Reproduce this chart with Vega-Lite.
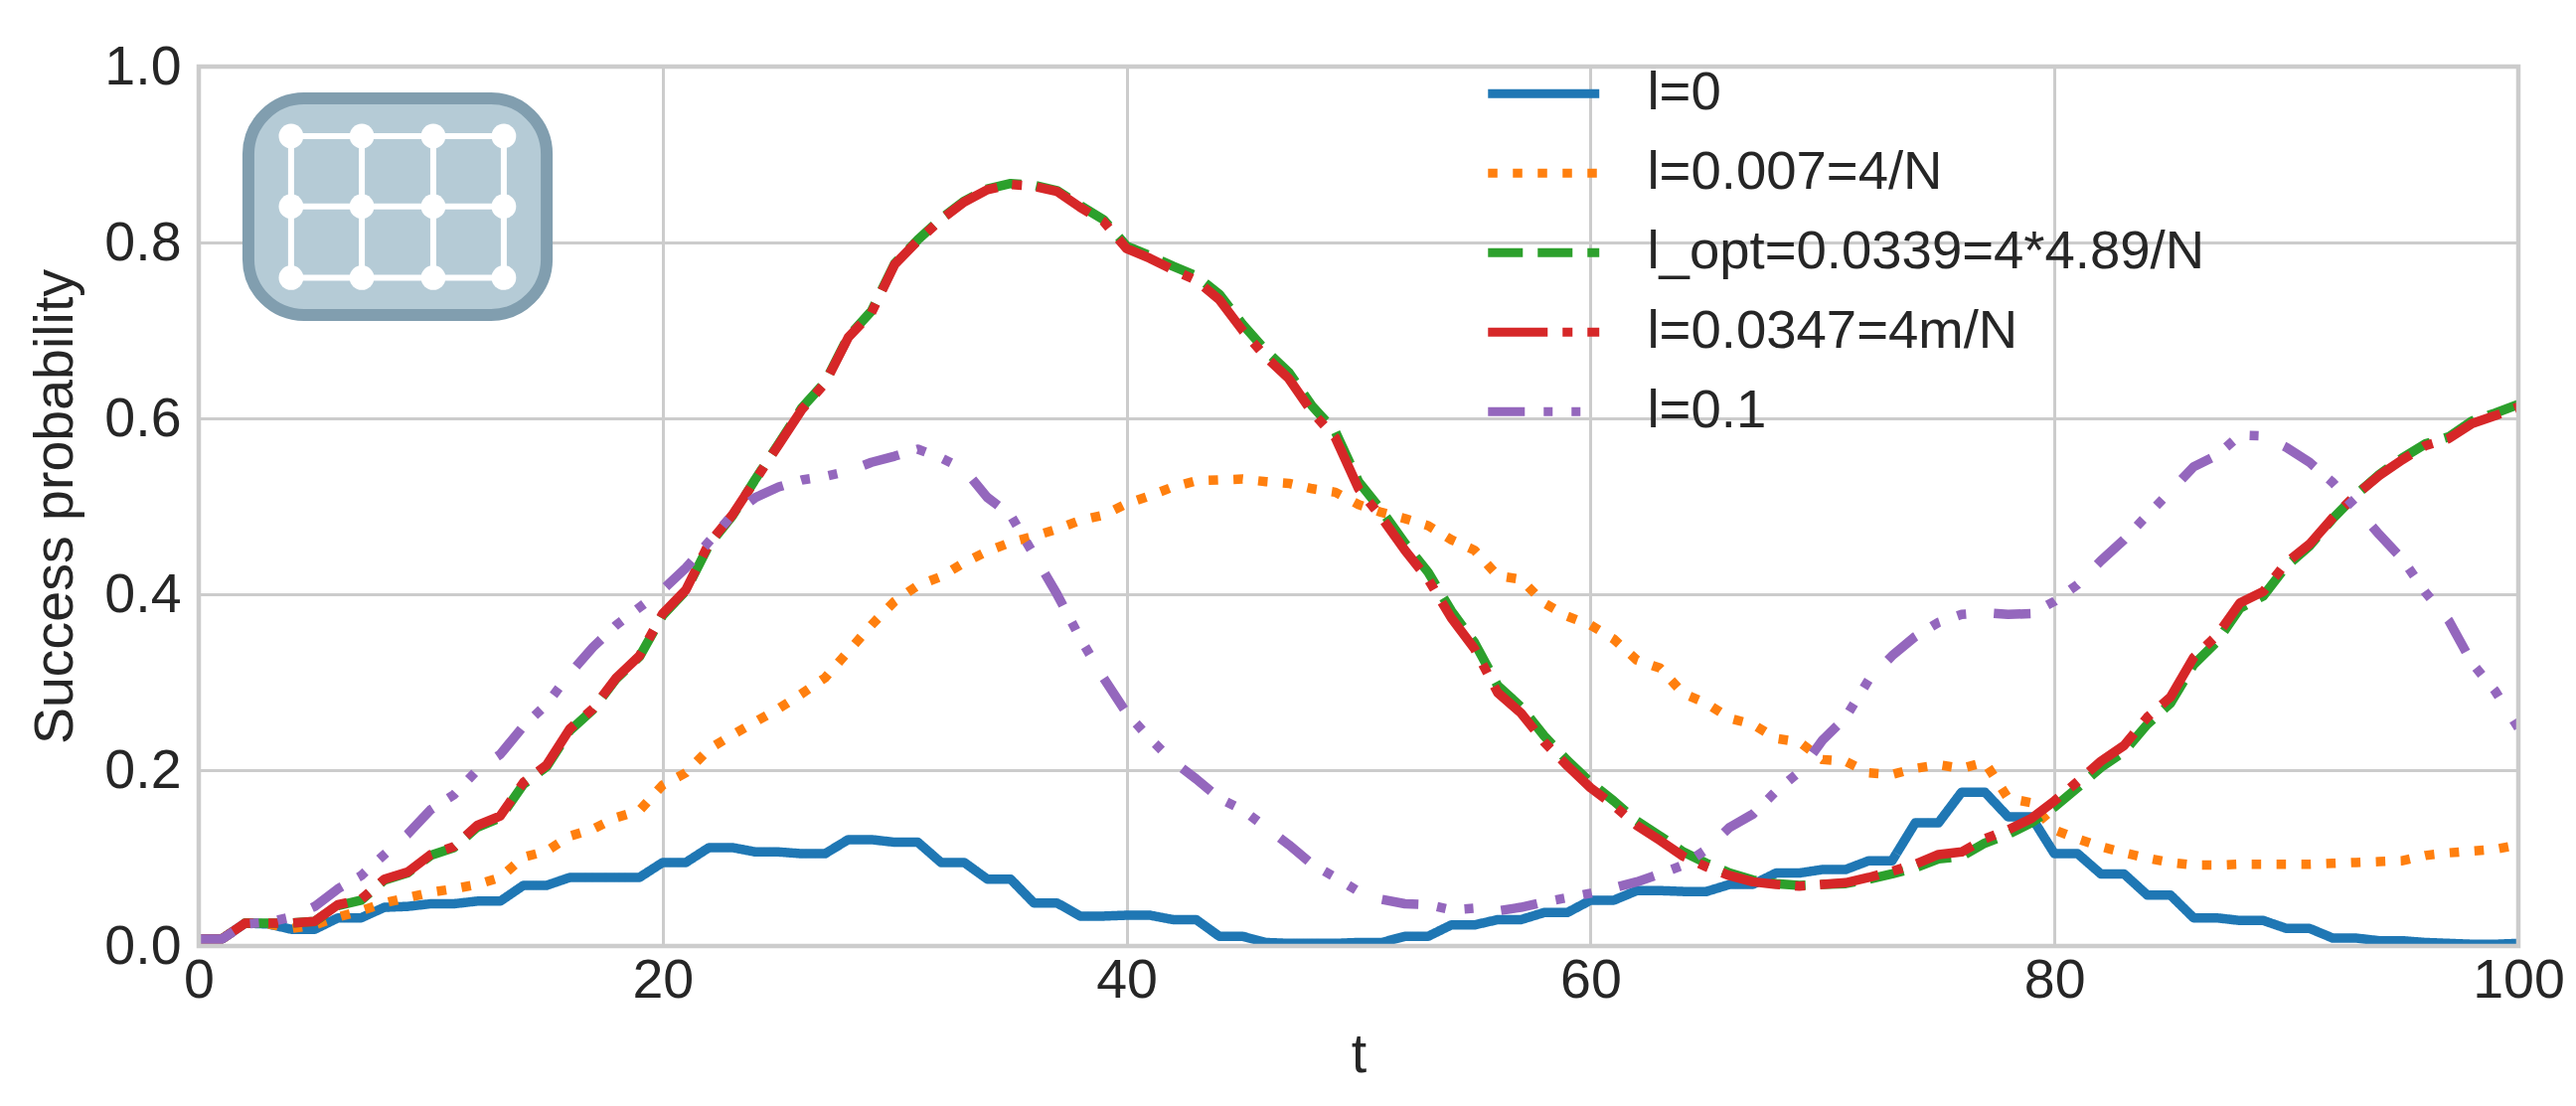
{
"$schema":"https://vega.github.io/schema/vega-lite/v6.json",
"width":2334,"height":885,
"autosize":"none",
"padding":{"left":200,"top":67,"right":58,"bottom":161},
"background":"white",
"config":{"view":{"stroke":null},"font":"Liberation Sans"},
"datasets":{
"box":[{"x":2.14,"x2":15.0,"y":0.7175,"y2":0.9638}],
"frame":[{"x":0,"x2":100,"y":0,"y2":1}],
"links":[
{"x":3.98,"x2":13.15,"y":0.921,"y2":0.921},{"x":3.98,"x2":13.15,"y":0.841,"y2":0.841},{"x":3.98,"x2":13.15,"y":0.76,"y2":0.76},
{"x":3.98,"x2":3.98,"y":0.76,"y2":0.921},{"x":7.03,"x2":7.03,"y":0.76,"y2":0.921},{"x":10.11,"x2":10.11,"y":0.76,"y2":0.921},{"x":13.15,"x2":13.15,"y":0.76,"y2":0.921}],
"nodes":[
{"x":3.98,"y":0.921},{"x":7.03,"y":0.921},{"x":10.11,"y":0.921},{"x":13.15,"y":0.921},
{"x":3.98,"y":0.841},{"x":7.03,"y":0.841},{"x":10.11,"y":0.841},{"x":13.15,"y":0.841},
{"x":3.98,"y":0.76},{"x":7.03,"y":0.76},{"x":10.11,"y":0.76},{"x":13.15,"y":0.76}],
"curves":[
{"t":0,"l":"l=0","p":0.008},{"t":1,"l":"l=0","p":0.008},{"t":2,"l":"l=0","p":0.026},{"t":3,"l":"l=0","p":0.025},{"t":4,"l":"l=0","p":0.019},{"t":5,"l":"l=0","p":0.019},{"t":6,"l":"l=0","p":0.032},{"t":7,"l":"l=0","p":0.032},{"t":8,"l":"l=0","p":0.044},{"t":9,"l":"l=0","p":0.045},{"t":10,"l":"l=0","p":0.048},{"t":11,"l":"l=0","p":0.048},{"t":12,"l":"l=0","p":0.051},{"t":13,"l":"l=0","p":0.051},{"t":14,"l":"l=0","p":0.069},{"t":15,"l":"l=0","p":0.069},{"t":16,"l":"l=0","p":0.078},{"t":17,"l":"l=0","p":0.078},{"t":18,"l":"l=0","p":0.078},{"t":19,"l":"l=0","p":0.078},{"t":20,"l":"l=0","p":0.095},{"t":21,"l":"l=0","p":0.095},{"t":22,"l":"l=0","p":0.112},{"t":23,"l":"l=0","p":0.112},{"t":24,"l":"l=0","p":0.107},{"t":25,"l":"l=0","p":0.107},{"t":26,"l":"l=0","p":0.105},{"t":27,"l":"l=0","p":0.105},{"t":28,"l":"l=0","p":0.121},{"t":29,"l":"l=0","p":0.121},{"t":30,"l":"l=0","p":0.118},{"t":31,"l":"l=0","p":0.118},{"t":32,"l":"l=0","p":0.095},{"t":33,"l":"l=0","p":0.095},{"t":34,"l":"l=0","p":0.076},{"t":35,"l":"l=0","p":0.076},{"t":36,"l":"l=0","p":0.049},{"t":37,"l":"l=0","p":0.049},{"t":38,"l":"l=0","p":0.034},{"t":39,"l":"l=0","p":0.034},{"t":40,"l":"l=0","p":0.035},{"t":41,"l":"l=0","p":0.035},{"t":42,"l":"l=0","p":0.03},{"t":43,"l":"l=0","p":0.03},{"t":44,"l":"l=0","p":0.011},{"t":45,"l":"l=0","p":0.011},{"t":46,"l":"l=0","p":0.004},{"t":47,"l":"l=0","p":0.003},{"t":48,"l":"l=0","p":0.003},{"t":49,"l":"l=0","p":0.003},{"t":50,"l":"l=0","p":0.004},{"t":51,"l":"l=0","p":0.004},{"t":52,"l":"l=0","p":0.011},{"t":53,"l":"l=0","p":0.011},{"t":54,"l":"l=0","p":0.024},{"t":55,"l":"l=0","p":0.024},{"t":56,"l":"l=0","p":0.03},{"t":57,"l":"l=0","p":0.03},{"t":58,"l":"l=0","p":0.038},{"t":59,"l":"l=0","p":0.038},{"t":60,"l":"l=0","p":0.052},{"t":61,"l":"l=0","p":0.052},{"t":62,"l":"l=0","p":0.063},{"t":63,"l":"l=0","p":0.063},{"t":64,"l":"l=0","p":0.062},{"t":65,"l":"l=0","p":0.062},{"t":66,"l":"l=0","p":0.07},{"t":67,"l":"l=0","p":0.07},{"t":68,"l":"l=0","p":0.083},{"t":69,"l":"l=0","p":0.083},{"t":70,"l":"l=0","p":0.087},{"t":71,"l":"l=0","p":0.087},{"t":72,"l":"l=0","p":0.097},{"t":73,"l":"l=0","p":0.097},{"t":74,"l":"l=0","p":0.14},{"t":75,"l":"l=0","p":0.14},{"t":76,"l":"l=0","p":0.175},{"t":77,"l":"l=0","p":0.175},{"t":78,"l":"l=0","p":0.147},{"t":79,"l":"l=0","p":0.147},{"t":80,"l":"l=0","p":0.105},{"t":81,"l":"l=0","p":0.105},{"t":82,"l":"l=0","p":0.082},{"t":83,"l":"l=0","p":0.082},{"t":84,"l":"l=0","p":0.058},{"t":85,"l":"l=0","p":0.058},{"t":86,"l":"l=0","p":0.032},{"t":87,"l":"l=0","p":0.032},{"t":88,"l":"l=0","p":0.029},{"t":89,"l":"l=0","p":0.029},{"t":90,"l":"l=0","p":0.02},{"t":91,"l":"l=0","p":0.02},{"t":92,"l":"l=0","p":0.009},{"t":93,"l":"l=0","p":0.009},{"t":94,"l":"l=0","p":0.006},{"t":95,"l":"l=0","p":0.006},{"t":96,"l":"l=0","p":0.004},{"t":97,"l":"l=0","p":0.003},{"t":98,"l":"l=0","p":0.002},{"t":99,"l":"l=0","p":0.002},{"t":100,"l":"l=0","p":0.003},
{"t":0,"l":"l=0.007=4/N","p":0.008},{"t":1,"l":"l=0.007=4/N","p":0.008},{"t":2,"l":"l=0.007=4/N","p":0.026},{"t":3,"l":"l=0.007=4/N","p":0.025},{"t":4,"l":"l=0.007=4/N","p":0.02},{"t":5,"l":"l=0.007=4/N","p":0.024},{"t":6,"l":"l=0.007=4/N","p":0.033},{"t":7,"l":"l=0.007=4/N","p":0.04},{"t":8,"l":"l=0.007=4/N","p":0.049},{"t":9,"l":"l=0.007=4/N","p":0.055},{"t":10,"l":"l=0.007=4/N","p":0.061},{"t":11,"l":"l=0.007=4/N","p":0.065},{"t":12,"l":"l=0.007=4/N","p":0.07},{"t":13,"l":"l=0.007=4/N","p":0.078},{"t":14,"l":"l=0.007=4/N","p":0.101},{"t":15,"l":"l=0.007=4/N","p":0.108},{"t":16,"l":"l=0.007=4/N","p":0.125},{"t":17,"l":"l=0.007=4/N","p":0.133},{"t":18,"l":"l=0.007=4/N","p":0.146},{"t":19,"l":"l=0.007=4/N","p":0.154},{"t":20,"l":"l=0.007=4/N","p":0.183},{"t":21,"l":"l=0.007=4/N","p":0.197},{"t":22,"l":"l=0.007=4/N","p":0.224},{"t":23,"l":"l=0.007=4/N","p":0.24},{"t":24,"l":"l=0.007=4/N","p":0.255},{"t":25,"l":"l=0.007=4/N","p":0.27},{"t":26,"l":"l=0.007=4/N","p":0.287},{"t":27,"l":"l=0.007=4/N","p":0.305},{"t":28,"l":"l=0.007=4/N","p":0.335},{"t":29,"l":"l=0.007=4/N","p":0.365},{"t":30,"l":"l=0.007=4/N","p":0.392},{"t":31,"l":"l=0.007=4/N","p":0.41},{"t":32,"l":"l=0.007=4/N","p":0.42},{"t":33,"l":"l=0.007=4/N","p":0.436},{"t":34,"l":"l=0.007=4/N","p":0.449},{"t":35,"l":"l=0.007=4/N","p":0.459},{"t":36,"l":"l=0.007=4/N","p":0.466},{"t":37,"l":"l=0.007=4/N","p":0.474},{"t":38,"l":"l=0.007=4/N","p":0.484},{"t":39,"l":"l=0.007=4/N","p":0.49},{"t":40,"l":"l=0.007=4/N","p":0.503},{"t":41,"l":"l=0.007=4/N","p":0.512},{"t":42,"l":"l=0.007=4/N","p":0.522},{"t":43,"l":"l=0.007=4/N","p":0.529},{"t":44,"l":"l=0.007=4/N","p":0.53},{"t":45,"l":"l=0.007=4/N","p":0.531},{"t":46,"l":"l=0.007=4/N","p":0.528},{"t":47,"l":"l=0.007=4/N","p":0.526},{"t":48,"l":"l=0.007=4/N","p":0.52},{"t":49,"l":"l=0.007=4/N","p":0.516},{"t":50,"l":"l=0.007=4/N","p":0.502},{"t":51,"l":"l=0.007=4/N","p":0.493},{"t":52,"l":"l=0.007=4/N","p":0.486},{"t":53,"l":"l=0.007=4/N","p":0.478},{"t":54,"l":"l=0.007=4/N","p":0.462},{"t":55,"l":"l=0.007=4/N","p":0.45},{"t":56,"l":"l=0.007=4/N","p":0.421},{"t":57,"l":"l=0.007=4/N","p":0.417},{"t":58,"l":"l=0.007=4/N","p":0.39},{"t":59,"l":"l=0.007=4/N","p":0.375},{"t":60,"l":"l=0.007=4/N","p":0.365},{"t":61,"l":"l=0.007=4/N","p":0.349},{"t":62,"l":"l=0.007=4/N","p":0.325},{"t":63,"l":"l=0.007=4/N","p":0.316},{"t":64,"l":"l=0.007=4/N","p":0.287},{"t":65,"l":"l=0.007=4/N","p":0.276},{"t":66,"l":"l=0.007=4/N","p":0.259},{"t":67,"l":"l=0.007=4/N","p":0.252},{"t":68,"l":"l=0.007=4/N","p":0.236},{"t":69,"l":"l=0.007=4/N","p":0.232},{"t":70,"l":"l=0.007=4/N","p":0.212},{"t":71,"l":"l=0.007=4/N","p":0.21},{"t":72,"l":"l=0.007=4/N","p":0.197},{"t":73,"l":"l=0.007=4/N","p":0.195},{"t":74,"l":"l=0.007=4/N","p":0.202},{"t":75,"l":"l=0.007=4/N","p":0.206},{"t":76,"l":"l=0.007=4/N","p":0.202},{"t":77,"l":"l=0.007=4/N","p":0.209},{"t":78,"l":"l=0.007=4/N","p":0.168},{"t":79,"l":"l=0.007=4/N","p":0.163},{"t":80,"l":"l=0.007=4/N","p":0.132},{"t":81,"l":"l=0.007=4/N","p":0.122},{"t":82,"l":"l=0.007=4/N","p":0.113},{"t":83,"l":"l=0.007=4/N","p":0.106},{"t":84,"l":"l=0.007=4/N","p":0.1},{"t":85,"l":"l=0.007=4/N","p":0.095},{"t":86,"l":"l=0.007=4/N","p":0.092},{"t":87,"l":"l=0.007=4/N","p":0.092},{"t":88,"l":"l=0.007=4/N","p":0.093},{"t":89,"l":"l=0.007=4/N","p":0.093},{"t":90,"l":"l=0.007=4/N","p":0.093},{"t":91,"l":"l=0.007=4/N","p":0.093},{"t":92,"l":"l=0.007=4/N","p":0.094},{"t":93,"l":"l=0.007=4/N","p":0.095},{"t":94,"l":"l=0.007=4/N","p":0.096},{"t":95,"l":"l=0.007=4/N","p":0.097},{"t":96,"l":"l=0.007=4/N","p":0.103},{"t":97,"l":"l=0.007=4/N","p":0.106},{"t":98,"l":"l=0.007=4/N","p":0.108},{"t":99,"l":"l=0.007=4/N","p":0.11},{"t":100,"l":"l=0.007=4/N","p":0.115},
{"t":0,"l":"l_opt=0.0339=4*4.89/N","p":0.008},{"t":1,"l":"l_opt=0.0339=4*4.89/N","p":0.008},{"t":2,"l":"l_opt=0.0339=4*4.89/N","p":0.026},{"t":3,"l":"l_opt=0.0339=4*4.89/N","p":0.026},{"t":4,"l":"l_opt=0.0339=4*4.89/N","p":0.026},{"t":5,"l":"l_opt=0.0339=4*4.89/N","p":0.028},{"t":6,"l":"l_opt=0.0339=4*4.89/N","p":0.046},{"t":7,"l":"l_opt=0.0339=4*4.89/N","p":0.052},{"t":8,"l":"l_opt=0.0339=4*4.89/N","p":0.075},{"t":9,"l":"l_opt=0.0339=4*4.89/N","p":0.083},{"t":10,"l":"l_opt=0.0339=4*4.89/N","p":0.103},{"t":11,"l":"l_opt=0.0339=4*4.89/N","p":0.112},{"t":12,"l":"l_opt=0.0339=4*4.89/N","p":0.135},{"t":13,"l":"l_opt=0.0339=4*4.89/N","p":0.146},{"t":14,"l":"l_opt=0.0339=4*4.89/N","p":0.184},{"t":15,"l":"l_opt=0.0339=4*4.89/N","p":0.204},{"t":16,"l":"l_opt=0.0339=4*4.89/N","p":0.245},{"t":17,"l":"l_opt=0.0339=4*4.89/N","p":0.269},{"t":18,"l":"l_opt=0.0339=4*4.89/N","p":0.304},{"t":19,"l":"l_opt=0.0339=4*4.89/N","p":0.329},{"t":20,"l":"l_opt=0.0339=4*4.89/N","p":0.376},{"t":21,"l":"l_opt=0.0339=4*4.89/N","p":0.404},{"t":22,"l":"l_opt=0.0339=4*4.89/N","p":0.456},{"t":23,"l":"l_opt=0.0339=4*4.89/N","p":0.489},{"t":24,"l":"l_opt=0.0339=4*4.89/N","p":0.531},{"t":25,"l":"l_opt=0.0339=4*4.89/N","p":0.571},{"t":26,"l":"l_opt=0.0339=4*4.89/N","p":0.612},{"t":27,"l":"l_opt=0.0339=4*4.89/N","p":0.641},{"t":28,"l":"l_opt=0.0339=4*4.89/N","p":0.693},{"t":29,"l":"l_opt=0.0339=4*4.89/N","p":0.722},{"t":30,"l":"l_opt=0.0339=4*4.89/N","p":0.776},{"t":31,"l":"l_opt=0.0339=4*4.89/N","p":0.803},{"t":32,"l":"l_opt=0.0339=4*4.89/N","p":0.827},{"t":33,"l":"l_opt=0.0339=4*4.89/N","p":0.847},{"t":34,"l":"l_opt=0.0339=4*4.89/N","p":0.861},{"t":35,"l":"l_opt=0.0339=4*4.89/N","p":0.867},{"t":36,"l":"l_opt=0.0339=4*4.89/N","p":0.865},{"t":37,"l":"l_opt=0.0339=4*4.89/N","p":0.859},{"t":38,"l":"l_opt=0.0339=4*4.89/N","p":0.842},{"t":39,"l":"l_opt=0.0339=4*4.89/N","p":0.826},{"t":40,"l":"l_opt=0.0339=4*4.89/N","p":0.796},{"t":41,"l":"l_opt=0.0339=4*4.89/N","p":0.785},{"t":42,"l":"l_opt=0.0339=4*4.89/N","p":0.773},{"t":43,"l":"l_opt=0.0339=4*4.89/N","p":0.762},{"t":44,"l":"l_opt=0.0339=4*4.89/N","p":0.741},{"t":45,"l":"l_opt=0.0339=4*4.89/N","p":0.707},{"t":46,"l":"l_opt=0.0339=4*4.89/N","p":0.677},{"t":47,"l":"l_opt=0.0339=4*4.89/N","p":0.652},{"t":48,"l":"l_opt=0.0339=4*4.89/N","p":0.614},{"t":49,"l":"l_opt=0.0339=4*4.89/N","p":0.585},{"t":50,"l":"l_opt=0.0339=4*4.89/N","p":0.528},{"t":51,"l":"l_opt=0.0339=4*4.89/N","p":0.495},{"t":52,"l":"l_opt=0.0339=4*4.89/N","p":0.458},{"t":53,"l":"l_opt=0.0339=4*4.89/N","p":0.425},{"t":54,"l":"l_opt=0.0339=4*4.89/N","p":0.381},{"t":55,"l":"l_opt=0.0339=4*4.89/N","p":0.345},{"t":56,"l":"l_opt=0.0339=4*4.89/N","p":0.296},{"t":57,"l":"l_opt=0.0339=4*4.89/N","p":0.272},{"t":58,"l":"l_opt=0.0339=4*4.89/N","p":0.239},{"t":59,"l":"l_opt=0.0339=4*4.89/N","p":0.211},{"t":60,"l":"l_opt=0.0339=4*4.89/N","p":0.186},{"t":61,"l":"l_opt=0.0339=4*4.89/N","p":0.165},{"t":62,"l":"l_opt=0.0339=4*4.89/N","p":0.142},{"t":63,"l":"l_opt=0.0339=4*4.89/N","p":0.125},{"t":64,"l":"l_opt=0.0339=4*4.89/N","p":0.107},{"t":65,"l":"l_opt=0.0339=4*4.89/N","p":0.094},{"t":66,"l":"l_opt=0.0339=4*4.89/N","p":0.083},{"t":67,"l":"l_opt=0.0339=4*4.89/N","p":0.075},{"t":68,"l":"l_opt=0.0339=4*4.89/N","p":0.071},{"t":69,"l":"l_opt=0.0339=4*4.89/N","p":0.069},{"t":70,"l":"l_opt=0.0339=4*4.89/N","p":0.07},{"t":71,"l":"l_opt=0.0339=4*4.89/N","p":0.071},{"t":72,"l":"l_opt=0.0339=4*4.89/N","p":0.076},{"t":73,"l":"l_opt=0.0339=4*4.89/N","p":0.082},{"t":74,"l":"l_opt=0.0339=4*4.89/N","p":0.089},{"t":75,"l":"l_opt=0.0339=4*4.89/N","p":0.099},{"t":76,"l":"l_opt=0.0339=4*4.89/N","p":0.102},{"t":77,"l":"l_opt=0.0339=4*4.89/N","p":0.117},{"t":78,"l":"l_opt=0.0339=4*4.89/N","p":0.127},{"t":79,"l":"l_opt=0.0339=4*4.89/N","p":0.14},{"t":80,"l":"l_opt=0.0339=4*4.89/N","p":0.158},{"t":81,"l":"l_opt=0.0339=4*4.89/N","p":0.18},{"t":82,"l":"l_opt=0.0339=4*4.89/N","p":0.203},{"t":83,"l":"l_opt=0.0339=4*4.89/N","p":0.221},{"t":84,"l":"l_opt=0.0339=4*4.89/N","p":0.252},{"t":85,"l":"l_opt=0.0339=4*4.89/N","p":0.276},{"t":86,"l":"l_opt=0.0339=4*4.89/N","p":0.32},{"t":87,"l":"l_opt=0.0339=4*4.89/N","p":0.346},{"t":88,"l":"l_opt=0.0339=4*4.89/N","p":0.384},{"t":89,"l":"l_opt=0.0339=4*4.89/N","p":0.398},{"t":90,"l":"l_opt=0.0339=4*4.89/N","p":0.432},{"t":91,"l":"l_opt=0.0339=4*4.89/N","p":0.455},{"t":92,"l":"l_opt=0.0339=4*4.89/N","p":0.486},{"t":93,"l":"l_opt=0.0339=4*4.89/N","p":0.513},{"t":94,"l":"l_opt=0.0339=4*4.89/N","p":0.536},{"t":95,"l":"l_opt=0.0339=4*4.89/N","p":0.555},{"t":96,"l":"l_opt=0.0339=4*4.89/N","p":0.571},{"t":97,"l":"l_opt=0.0339=4*4.89/N","p":0.579},{"t":98,"l":"l_opt=0.0339=4*4.89/N","p":0.597},{"t":99,"l":"l_opt=0.0339=4*4.89/N","p":0.606},{"t":100,"l":"l_opt=0.0339=4*4.89/N","p":0.616},
{"t":0,"l":"l=0.0347=4m/N","p":0.008},{"t":1,"l":"l=0.0347=4m/N","p":0.008},{"t":2,"l":"l=0.0347=4m/N","p":0.026},{"t":3,"l":"l=0.0347=4m/N","p":0.026},{"t":4,"l":"l=0.0347=4m/N","p":0.026},{"t":5,"l":"l=0.0347=4m/N","p":0.028},{"t":6,"l":"l=0.0347=4m/N","p":0.047},{"t":7,"l":"l=0.0347=4m/N","p":0.053},{"t":8,"l":"l=0.0347=4m/N","p":0.076},{"t":9,"l":"l=0.0347=4m/N","p":0.084},{"t":10,"l":"l=0.0347=4m/N","p":0.104},{"t":11,"l":"l=0.0347=4m/N","p":0.113},{"t":12,"l":"l=0.0347=4m/N","p":0.137},{"t":13,"l":"l=0.0347=4m/N","p":0.148},{"t":14,"l":"l=0.0347=4m/N","p":0.186},{"t":15,"l":"l=0.0347=4m/N","p":0.206},{"t":16,"l":"l=0.0347=4m/N","p":0.247},{"t":17,"l":"l=0.0347=4m/N","p":0.27},{"t":18,"l":"l=0.0347=4m/N","p":0.305},{"t":19,"l":"l=0.0347=4m/N","p":0.33},{"t":20,"l":"l=0.0347=4m/N","p":0.378},{"t":21,"l":"l=0.0347=4m/N","p":0.405},{"t":22,"l":"l=0.0347=4m/N","p":0.458},{"t":23,"l":"l=0.0347=4m/N","p":0.49},{"t":24,"l":"l=0.0347=4m/N","p":0.53},{"t":25,"l":"l=0.0347=4m/N","p":0.57},{"t":26,"l":"l=0.0347=4m/N","p":0.61},{"t":27,"l":"l=0.0347=4m/N","p":0.64},{"t":28,"l":"l=0.0347=4m/N","p":0.692},{"t":29,"l":"l=0.0347=4m/N","p":0.72},{"t":30,"l":"l=0.0347=4m/N","p":0.775},{"t":31,"l":"l=0.0347=4m/N","p":0.802},{"t":32,"l":"l=0.0347=4m/N","p":0.826},{"t":33,"l":"l=0.0347=4m/N","p":0.846},{"t":34,"l":"l=0.0347=4m/N","p":0.86},{"t":35,"l":"l=0.0347=4m/N","p":0.866},{"t":36,"l":"l=0.0347=4m/N","p":0.864},{"t":37,"l":"l=0.0347=4m/N","p":0.858},{"t":38,"l":"l=0.0347=4m/N","p":0.84},{"t":39,"l":"l=0.0347=4m/N","p":0.824},{"t":40,"l":"l=0.0347=4m/N","p":0.793},{"t":41,"l":"l=0.0347=4m/N","p":0.782},{"t":42,"l":"l=0.0347=4m/N","p":0.769},{"t":43,"l":"l=0.0347=4m/N","p":0.757},{"t":44,"l":"l=0.0347=4m/N","p":0.735},{"t":45,"l":"l=0.0347=4m/N","p":0.7},{"t":46,"l":"l=0.0347=4m/N","p":0.67},{"t":47,"l":"l=0.0347=4m/N","p":0.645},{"t":48,"l":"l=0.0347=4m/N","p":0.607},{"t":49,"l":"l=0.0347=4m/N","p":0.578},{"t":50,"l":"l=0.0347=4m/N","p":0.52},{"t":51,"l":"l=0.0347=4m/N","p":0.487},{"t":52,"l":"l=0.0347=4m/N","p":0.45},{"t":53,"l":"l=0.0347=4m/N","p":0.417},{"t":54,"l":"l=0.0347=4m/N","p":0.373},{"t":55,"l":"l=0.0347=4m/N","p":0.338},{"t":56,"l":"l=0.0347=4m/N","p":0.288},{"t":57,"l":"l=0.0347=4m/N","p":0.265},{"t":58,"l":"l=0.0347=4m/N","p":0.232},{"t":59,"l":"l=0.0347=4m/N","p":0.205},{"t":60,"l":"l=0.0347=4m/N","p":0.18},{"t":61,"l":"l=0.0347=4m/N","p":0.16},{"t":62,"l":"l=0.0347=4m/N","p":0.137},{"t":63,"l":"l=0.0347=4m/N","p":0.12},{"t":64,"l":"l=0.0347=4m/N","p":0.102},{"t":65,"l":"l=0.0347=4m/N","p":0.09},{"t":66,"l":"l=0.0347=4m/N","p":0.08},{"t":67,"l":"l=0.0347=4m/N","p":0.073},{"t":68,"l":"l=0.0347=4m/N","p":0.07},{"t":69,"l":"l=0.0347=4m/N","p":0.068},{"t":70,"l":"l=0.0347=4m/N","p":0.07},{"t":71,"l":"l=0.0347=4m/N","p":0.072},{"t":72,"l":"l=0.0347=4m/N","p":0.078},{"t":73,"l":"l=0.0347=4m/N","p":0.085},{"t":74,"l":"l=0.0347=4m/N","p":0.093},{"t":75,"l":"l=0.0347=4m/N","p":0.104},{"t":76,"l":"l=0.0347=4m/N","p":0.107},{"t":77,"l":"l=0.0347=4m/N","p":0.122},{"t":78,"l":"l=0.0347=4m/N","p":0.132},{"t":79,"l":"l=0.0347=4m/N","p":0.145},{"t":80,"l":"l=0.0347=4m/N","p":0.165},{"t":81,"l":"l=0.0347=4m/N","p":0.187},{"t":82,"l":"l=0.0347=4m/N","p":0.21},{"t":83,"l":"l=0.0347=4m/N","p":0.228},{"t":84,"l":"l=0.0347=4m/N","p":0.26},{"t":85,"l":"l=0.0347=4m/N","p":0.283},{"t":86,"l":"l=0.0347=4m/N","p":0.328},{"t":87,"l":"l=0.0347=4m/N","p":0.353},{"t":88,"l":"l=0.0347=4m/N","p":0.39},{"t":89,"l":"l=0.0347=4m/N","p":0.403},{"t":90,"l":"l=0.0347=4m/N","p":0.436},{"t":91,"l":"l=0.0347=4m/N","p":0.457},{"t":92,"l":"l=0.0347=4m/N","p":0.487},{"t":93,"l":"l=0.0347=4m/N","p":0.513},{"t":94,"l":"l=0.0347=4m/N","p":0.535},{"t":95,"l":"l=0.0347=4m/N","p":0.553},{"t":96,"l":"l=0.0347=4m/N","p":0.569},{"t":97,"l":"l=0.0347=4m/N","p":0.577},{"t":98,"l":"l=0.0347=4m/N","p":0.594},{"t":99,"l":"l=0.0347=4m/N","p":0.603},{"t":100,"l":"l=0.0347=4m/N","p":0.613},
{"t":0,"l":"l=0.1","p":0.008},{"t":1,"l":"l=0.1","p":0.008},{"t":2,"l":"l=0.1","p":0.025},{"t":3,"l":"l=0.1","p":0.027},{"t":4,"l":"l=0.1","p":0.033},{"t":5,"l":"l=0.1","p":0.045},{"t":6,"l":"l=0.1","p":0.065},{"t":7,"l":"l=0.1","p":0.08},{"t":8,"l":"l=0.1","p":0.104},{"t":9,"l":"l=0.1","p":0.127},{"t":10,"l":"l=0.1","p":0.155},{"t":11,"l":"l=0.1","p":0.172},{"t":12,"l":"l=0.1","p":0.2},{"t":13,"l":"l=0.1","p":0.218},{"t":14,"l":"l=0.1","p":0.25},{"t":15,"l":"l=0.1","p":0.275},{"t":16,"l":"l=0.1","p":0.31},{"t":17,"l":"l=0.1","p":0.34},{"t":18,"l":"l=0.1","p":0.365},{"t":19,"l":"l=0.1","p":0.385},{"t":20,"l":"l=0.1","p":0.405},{"t":21,"l":"l=0.1","p":0.43},{"t":22,"l":"l=0.1","p":0.46},{"t":23,"l":"l=0.1","p":0.49},{"t":24,"l":"l=0.1","p":0.51},{"t":25,"l":"l=0.1","p":0.522},{"t":26,"l":"l=0.1","p":0.53},{"t":27,"l":"l=0.1","p":0.534},{"t":28,"l":"l=0.1","p":0.54},{"t":29,"l":"l=0.1","p":0.55},{"t":30,"l":"l=0.1","p":0.557},{"t":31,"l":"l=0.1","p":0.565},{"t":32,"l":"l=0.1","p":0.555},{"t":33,"l":"l=0.1","p":0.542},{"t":34,"l":"l=0.1","p":0.51},{"t":35,"l":"l=0.1","p":0.49},{"t":36,"l":"l=0.1","p":0.445},{"t":37,"l":"l=0.1","p":0.4},{"t":38,"l":"l=0.1","p":0.35},{"t":39,"l":"l=0.1","p":0.305},{"t":40,"l":"l=0.1","p":0.265},{"t":41,"l":"l=0.1","p":0.236},{"t":42,"l":"l=0.1","p":0.21},{"t":43,"l":"l=0.1","p":0.19},{"t":44,"l":"l=0.1","p":0.168},{"t":45,"l":"l=0.1","p":0.155},{"t":46,"l":"l=0.1","p":0.135},{"t":47,"l":"l=0.1","p":0.115},{"t":48,"l":"l=0.1","p":0.093},{"t":49,"l":"l=0.1","p":0.078},{"t":50,"l":"l=0.1","p":0.062},{"t":51,"l":"l=0.1","p":0.053},{"t":52,"l":"l=0.1","p":0.048},{"t":53,"l":"l=0.1","p":0.047},{"t":54,"l":"l=0.1","p":0.041},{"t":55,"l":"l=0.1","p":0.043},{"t":56,"l":"l=0.1","p":0.04},{"t":57,"l":"l=0.1","p":0.044},{"t":58,"l":"l=0.1","p":0.05},{"t":59,"l":"l=0.1","p":0.055},{"t":60,"l":"l=0.1","p":0.06},{"t":61,"l":"l=0.1","p":0.066},{"t":62,"l":"l=0.1","p":0.073},{"t":63,"l":"l=0.1","p":0.082},{"t":64,"l":"l=0.1","p":0.092},{"t":65,"l":"l=0.1","p":0.11},{"t":66,"l":"l=0.1","p":0.135},{"t":67,"l":"l=0.1","p":0.15},{"t":68,"l":"l=0.1","p":0.176},{"t":69,"l":"l=0.1","p":0.198},{"t":70,"l":"l=0.1","p":0.234},{"t":71,"l":"l=0.1","p":0.26},{"t":72,"l":"l=0.1","p":0.303},{"t":73,"l":"l=0.1","p":0.33},{"t":74,"l":"l=0.1","p":0.352},{"t":75,"l":"l=0.1","p":0.368},{"t":76,"l":"l=0.1","p":0.377},{"t":77,"l":"l=0.1","p":0.379},{"t":78,"l":"l=0.1","p":0.377},{"t":79,"l":"l=0.1","p":0.378},{"t":80,"l":"l=0.1","p":0.392},{"t":81,"l":"l=0.1","p":0.411},{"t":82,"l":"l=0.1","p":0.438},{"t":83,"l":"l=0.1","p":0.462},{"t":84,"l":"l=0.1","p":0.49},{"t":85,"l":"l=0.1","p":0.517},{"t":86,"l":"l=0.1","p":0.545},{"t":87,"l":"l=0.1","p":0.558},{"t":88,"l":"l=0.1","p":0.581},{"t":89,"l":"l=0.1","p":0.58},{"t":90,"l":"l=0.1","p":0.567},{"t":91,"l":"l=0.1","p":0.55},{"t":92,"l":"l=0.1","p":0.527},{"t":93,"l":"l=0.1","p":0.498},{"t":94,"l":"l=0.1","p":0.468},{"t":95,"l":"l=0.1","p":0.44},{"t":96,"l":"l=0.1","p":0.402},{"t":97,"l":"l=0.1","p":0.37},{"t":98,"l":"l=0.1","p":0.322},{"t":99,"l":"l=0.1","p":0.29},{"t":100,"l":"l=0.1","p":0.248}
]
},
"layer":[
{"data":{"name":"curves"},
"mark":{"type":"line","clip":true,"strokeWidth":9.5,"strokeJoin":"round"},
"encoding":{
"x":{"field":"t","type":"quantitative","scale":{"domain":[0,100],"nice":false},
"axis":{"title":"t","values":[0,20,40,60,80,100],"grid":true,"gridColor":"#cccccc","gridWidth":3,"domain":false,"ticks":false,"labelFontSize":55.5,"labelColor":"#262626","labelPadding":7,"labelFlush":false,"titleFontSize":55.5,"titleFontWeight":"normal","titleColor":"#262626","titlePadding":20}},
"y":{"field":"p","type":"quantitative","scale":{"domain":[0,1],"nice":false},
"axis":{"title":"Success probability","values":[0,0.2,0.4,0.6,0.8,1],"format":".1f","grid":true,"gridColor":"#cccccc","gridWidth":3,"domain":false,"ticks":false,"labelFontSize":55.5,"labelColor":"#262626","labelPadding":18,"titleFontSize":55.5,"titleFontWeight":"normal","titleColor":"#262626","titlePadding":20}},
"color":{"field":"l","type":"nominal","sort":null,
"scale":{"domain":["l=0","l=0.007=4/N","l_opt=0.0339=4*4.89/N","l=0.0347=4m/N","l=0.1"],"range":["#1f77b4","#ff7f0e","#2ca02c","#d62728","#9467bd"]},
"legend":{"orient":"none","legendX":1326,"legendY":0,"padding":0,"title":null,"symbolType":"M-3,0H3","symbolSize":1393,"symbolStrokeWidth":9,"labelFontSize":54.5,"labelColor":"#262626","labelOffset":77,"rowPadding":25,"labelLimit":800}},
"strokeDash":{"field":"l","type":"nominal","sort":null,
"scale":{"domain":["l=0","l=0.007=4/N","l_opt=0.0339=4*4.89/N","l=0.0347=4m/N","l=0.1"],"range":[[1,0],[9.5,15.5],[35,15],[60,15,10,15],[37,19,9,19,9,28]]}}
}},
{"data":{"name":"box"},
"mark":{"type":"rect","fill":"#b5cbd6","stroke":"#819eaf","strokeWidth":12,"cornerRadius":56},
"encoding":{"x":{"field":"x","type":"quantitative"},"x2":{"field":"x2"},"y":{"field":"y","type":"quantitative"},"y2":{"field":"y2"}}},
{"data":{"name":"links"},
"mark":{"type":"rule","color":"white","strokeWidth":6},
"encoding":{"x":{"field":"x","type":"quantitative"},"x2":{"field":"x2"},"y":{"field":"y","type":"quantitative"},"y2":{"field":"y2"}}},
{"data":{"name":"nodes"},
"mark":{"type":"point","filled":true,"color":"white","opacity":1,"size":615},
"encoding":{"x":{"field":"x","type":"quantitative"},"y":{"field":"y","type":"quantitative"}}},
{"data":{"name":"frame"},
"mark":{"type":"rect","fillOpacity":0,"stroke":"#cccccc","strokeWidth":4.5},
"encoding":{"x":{"field":"x","type":"quantitative"},"x2":{"field":"x2"},"y":{"field":"y","type":"quantitative"},"y2":{"field":"y2"}}}
]
}
